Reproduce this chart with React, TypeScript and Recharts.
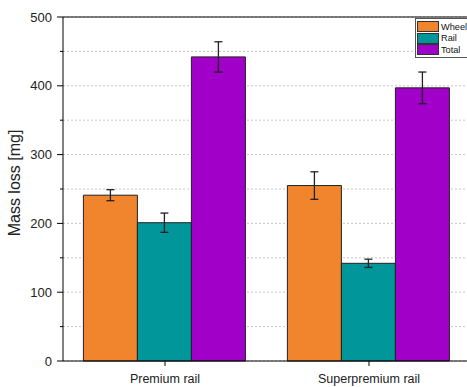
import { BarChart, Bar, XAxis, YAxis, CartesianGrid, ErrorBar, Legend, ReferenceLine, Label } from "recharts";

const categories = ["Premium rail", "Superpremium rail"];
const wheel = [241, 255];
const wheelErr = [8, 20];
const rail = [201, 142];
const railErr = [14, 6];
const total = [442, 397];
const totalErr = [22, 23];
const yTicks = [0, 50, 100, 150, 200, 250, 300, 350, 400, 450, 500];
const boundaryTicks = [0, 1, 2];

const SERIES = [
  { key: "wheel", name: "Wheel", color: "#F0852D" },
  { key: "rail", name: "Rail", color: "#00969A" },
  { key: "total", name: "Total", color: "#A000C8" },
];

const data = categories.map((c, i) => ({
  category: c,
  wheel: wheel[i],
  wheelErr: wheelErr[i],
  rail: rail[i],
  railErr: railErr[i],
  total: total[i],
  totalErr: totalErr[i],
}));

const FONT = '"Liberation Sans", Arial, sans-serif';

function YTick(props: any) {
  const { x, y, payload } = props;
  const major = payload.value % 100 === 0;
  return (
    <g>
      <line x1={x + (major ? 5 : 8)} x2={x + 11} y1={y} y2={y} stroke="#000" />
      {major && (
        <text x={x} y={y} dy={4.5} textAnchor="end" fontSize={13} fill="#222" fontFamily={FONT}>
          {payload.value}
        </text>
      )}
    </g>
  );
}

// legend keeps series order (recharts sorts payload by name otherwise)
function LegendBox() {
  return (
    <div
      style={{
        border: "1px solid #555",
        background: "#fff",
        padding: "2px 30px 1px 1px",
        fontFamily: FONT,
        fontSize: 9.2,
        color: "#111",
      }}
    >
      {SERIES.map((s) => (
        <div key={s.key} style={{ display: "flex", alignItems: "center", height: 11.5 }}>
          <span
            style={{
              display: "inline-block",
              width: 20,
              height: 9,
              background: s.color,
              border: "1px solid #333",
              marginRight: 2,
            }}
          />
          <span>{s.name}</span>
        </div>
      ))}
    </div>
  );
}

export default function App() {
  return (
    <div
      style={{
        position: "absolute",
        left: 0,
        top: 0,
        width: 467,
        height: 387,
        overflow: "hidden",
        background: "#fff",
      }}
    >
      <BarChart
        width={480}
        height={387}
        data={data}
        margin={{ top: 17, right: 9, left: 0, bottom: 0 }}
        barCategoryGap="10%"
        barGap={0}
        style={{ fontFamily: FONT }}
      >
        <CartesianGrid xAxisId="cat" vertical={false} stroke="#c8c8c8" strokeDasharray="2 2" />
        <XAxis
          xAxisId="b"
          type="number"
          domain={[0, 2]}
          ticks={boundaryTicks}
          tick={false}
          tickSize={3}
          axisLine={false}
          tickLine={{ stroke: "#000" }}
          height={0}
        />
        <XAxis
          xAxisId="cat"
          dataKey="category"
          tickSize={5}
          tickMargin={8}
          height={26}
          axisLine={{ stroke: "#000" }}
          tickLine={{ stroke: "#000" }}
          tick={{ fontSize: 12.5, fill: "#222" }}
        />
        <YAxis
          type="number"
          domain={[0, 500]}
          ticks={yTicks}
          interval={0}
          width={63}
          tickSize={6}
          tickMargin={5}
          tickLine={false}
          axisLine={{ stroke: "#000" }}
          tick={<YTick />}
        >
          <Label
            content={() => (
              <text
                x={20}
                y={183}
                transform="rotate(-90 20 183)"
                textAnchor="middle"
                fontSize={16}
                fill="#222"
                fontFamily={FONT}
              >
                Mass loss [mg]
              </text>
            )}
          />
        </YAxis>
        <ReferenceLine xAxisId="cat" y={500} stroke="#000" />
        {SERIES.map((s) => (
          <Bar
            key={s.key}
            xAxisId="cat"
            dataKey={s.key}
            name={s.name}
            fill={s.color}
            stroke="#222"
            strokeWidth={1}
            isAnimationActive={false}
          >
            <ErrorBar dataKey={`${s.key}Err`} width={4} stroke="#222" strokeWidth={1.3} direction="y" />
          </Bar>
        ))}
        <Legend
          layout="vertical"
          verticalAlign="middle"
          align="center"
          content={<LegendBox />}
          wrapperStyle={{ top: 18, left: 415, right: "auto", bottom: "auto", width: "auto" }}
        />
      </BarChart>
    </div>
  );
}
